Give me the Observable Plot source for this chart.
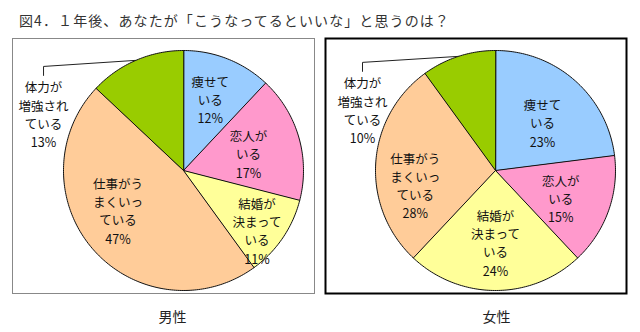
<!DOCTYPE html>
<html><head><meta charset="utf-8">
<script src="https://cdn.jsdelivr.net/npm/d3@7"></script>
<script src="https://cdn.jsdelivr.net/npm/@observablehq/plot@0.6"></script>
<style>
body{margin:0;background:#fff;width:640px;height:332px;overflow:hidden;position:relative;font-family:"Noto Sans CJK JP",sans-serif}
#title{position:absolute;left:19px;top:11px;font-size:14px;color:#333;letter-spacing:1.1px;white-space:nowrap;line-height:18px}
#charts{position:absolute;left:0;top:30px;display:flex}
</style></head><body>
<div id="title"></div>
<div id="charts"></div>
<script>
// ---- data ----
const title = "図4．１年後、あなたが「こうなってるといいな」と思うのは？";
const categories = ["痩せている","恋人がいる","結婚が決まっている","仕事がうまくいっている","体力が増強されている"];
const categoryLines = ["痩せて\nいる","恋人が\nいる","結婚が\n決まって\nいる","仕事がう\nまくいっ\nている","体力が\n増強され\nている"];
const groups = ["男性","女性"];
const maleValues = [12,17,11,47,13];
const femaleValues = [23,15,24,28,10];

// ---- style / layout ----
const colors = ["#99CCFF","#FF99CC","#FFFF99","#FFCC99","#99CC00"];
const FONT = "'Noto Sans CJK JP', sans-serif";
const panels = [
  {group: groups[0], values: maleValues, offset: 0, frameL: 12, frameR: 314, cx: 183,
   frameStroke: "#888", frameWidth: 1, captionDx: -11,
   labelR: [0.633, 0.56, 0.79, 0.64, 1.258], labelShift: [-1, 1.5, 5, 10, -44.6]},
  {group: groups[1], values: femaleValues, offset: 320, frameL: 325, frameR: 626, cx: 495,
   frameStroke: "#000", frameWidth: 2, captionDx: 1,
   labelR: [0.56, 0.59, 0.6, 0.68, 1.218], labelShift: [3, 3, 0, -14, -47.5]}
];
const W = 320, H = 302, MT = 8, MB = 39, CY = 140, R = 120;
const FS = 12.5, LH = 1.46;

document.getElementById("title").textContent = title;

const rad = d => d * Math.PI / 180;
function makePanel(p) {
  const total = d3.sum(p.values);
  let cum = 0;
  const slices = p.values.map((v, i) => {
    const a0 = cum / total * 360, a1 = (cum + v) / total * 360;
    cum += v;
    const pts = [{x: 0, y: 0}];
    const n = Math.max(2, Math.ceil(a1 - a0));
    for (let k = 0; k <= n; k++) {
      const a = rad(a0 + (a1 - a0) * k / n);
      pts.push({x: Math.sin(a), y: Math.cos(a)});
    }
    const mid = (a0 + a1) / 2;
    const t = rad(mid + p.labelShift[i]);
    const rr = p.labelR[i];
    const text = categoryLines[i] + "\n" + v + "%";
    const nLines = text.split("\n").length;
    return {i, v, name: categories[i], pts, mid, lx: rr * Math.sin(t), ly: rr * Math.cos(t), text, nLines, outside: rr > 1};
  });
  const marginLeft = p.frameL - p.offset;
  const marginRight = W - (p.frameR - p.offset);
  const xDomain = [-(p.cx - p.frameL) / R, (p.frameR - p.cx) / R];
  const yDomain = [-((H - MB) - CY) / R, (CY - MT) / R];

  const leaders = slices.filter(s => s.outside).map(s => {
    const half = (s.nLines * LH * FS) / 2;
    const a = rad(s.mid);
    return [
      {x: s.lx, y: s.ly + (half + 2) / R},
      {x: s.lx, y: s.ly + (half + 11) / R},
      {x: Math.sin(a), y: Math.cos(a)}
    ];
  });

  return Plot.plot({
    width: W, height: H,
    marginLeft, marginRight, marginTop: MT, marginBottom: MB,
    x: {domain: xDomain, axis: null},
    y: {domain: yDomain, axis: null},
    style: {fontFamily: FONT, background: "white", overflow: "visible"},
    marks: [
      Plot.frame({stroke: p.frameStroke, strokeWidth: p.frameWidth}),
      ...slices.map(s => Plot.line(s.pts, {x: "x", y: "y", curve: "linear-closed",
        fill: colors[s.i], stroke: "#111", strokeWidth: 1, strokeLinejoin: "round"})),
      ...leaders.map(L => Plot.line(L, {x: "x", y: "y", stroke: "#222", strokeWidth: 1})),
      Plot.text(slices, {x: "lx", y: "ly", text: "text", fontSize: FS, lineHeight: LH,
        fill: "#111", fontFamily: FONT}),
      Plot.text([p.group], {x: () => 0, y: () => yDomain[0], text: d => d, dy: 24, dx: p.captionDx,
        fontSize: 14, fill: "#222", fontFamily: FONT})
    ]
  });
}
const host = document.getElementById("charts");
panels.forEach(p => host.appendChild(makePanel(p)));
</script>
</body></html>
